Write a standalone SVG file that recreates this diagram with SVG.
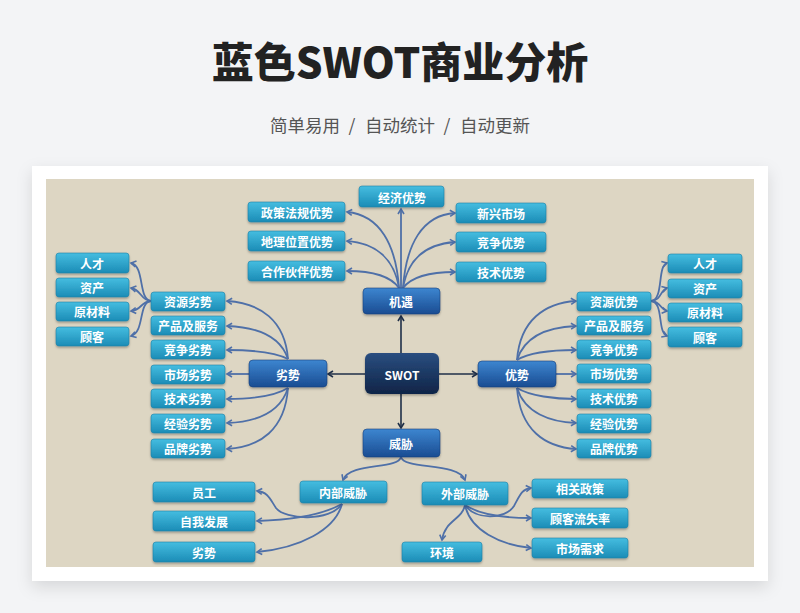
<svg xmlns="http://www.w3.org/2000/svg" width="800" height="613" viewBox="0 0 800 613">
<style>
.t{fill:#fff;font-family:"Noto Sans CJK SC","Noto Sans",sans-serif;font-weight:700;font-size:12px;text-anchor:middle;dominant-baseline:central}
.st{font-family:"Noto Sans CJK SC","Noto Sans",sans-serif;font-size:17.5px;fill:#555;text-anchor:middle;dominant-baseline:central}
.b{fill:url(#gl);stroke:#1c7fa6;stroke-width:0.6}
.d{fill:url(#gd);stroke:#163f7c;stroke-width:0.6}
.c{fill:none;stroke:#4f70a8;stroke-width:1.8;marker-end:url(#ah)}
.k{fill:none;stroke:#1f2f48;stroke-width:1.6;marker-end:url(#ak)}
</style>
<defs>
<linearGradient id="gl" x1="0" y1="0" x2="0" y2="1"><stop offset="0" stop-color="#45bde0"/><stop offset="1" stop-color="#1b8cb6"/></linearGradient>
<linearGradient id="gd" x1="0" y1="0" x2="0" y2="1"><stop offset="0" stop-color="#3d86d0"/><stop offset="1" stop-color="#1a4c92"/></linearGradient>
<linearGradient id="gs" x1="0" y1="0" x2="0" y2="1"><stop offset="0" stop-color="#2a4e80"/><stop offset="1" stop-color="#0f2447"/></linearGradient>
<filter id="sh" x="-10%" y="-10%" width="120%" height="125%"><feDropShadow dx="0" dy="6" stdDeviation="8" flood-color="#000" flood-opacity="0.12"/></filter>
<filter id="bs" x="-10%" y="-20%" width="120%" height="160%"><feDropShadow dx="0" dy="1.5" stdDeviation="1" flood-color="#000" flood-opacity="0.3"/></filter>
<marker id="ah" markerWidth="8" markerHeight="8" refX="6" refY="4" orient="auto" markerUnits="userSpaceOnUse"><path d="M1,1 L6,4 L1,7" fill="none" stroke="#4f70a8" stroke-width="1.6"/></marker>
<marker id="ak" markerWidth="8" markerHeight="8" refX="6" refY="4" orient="auto" markerUnits="userSpaceOnUse"><path d="M1,1 L6,4 L1,7" fill="none" stroke="#1f2f48" stroke-width="1.6"/></marker>
</defs>
<rect width="800" height="613" fill="#f3f4f6"/>
<text x="400" y="59" font-family="'Noto Sans CJK SC','Noto Sans',sans-serif" font-weight="900" font-size="42" fill="#222" text-anchor="middle" dominant-baseline="central">蓝色SWOT商业分析</text>
<g id="subtitle">
<text class="st" x="305" y="124">简单易用</text>
<text class="st" x="352" y="124">/</text>
<text class="st" x="400" y="124">自动统计</text>
<text class="st" x="447" y="124">/</text>
<text class="st" x="495" y="124">自动更新</text>
</g>
<rect x="32" y="166" width="736" height="415" fill="#fff" filter="url(#sh)"/>
<rect x="46" y="179" width="708" height="388" fill="#ddd6c3"/>

<g id="connectors">
<path class="k" d="M401,353 L401,316"/>
<path class="k" d="M439,374 L477,374"/>
<path class="k" d="M365,374 L328,374"/>
<path class="k" d="M401,394 L401,428"/>
<path class="c" d="M401,288 L401,209"/>
<path class="c" d="M399,288 C396,245 380,215 347,212"/>
<path class="c" d="M399,288 C394,258 375,243 347,241"/>
<path class="c" d="M399,288 C390,275 370,271 347,271"/>
<path class="c" d="M403,288 C406,245 422,215 455,213"/>
<path class="c" d="M403,288 C408,258 427,244 455,242"/>
<path class="c" d="M403,288 C412,276 432,272 455,272"/>
<path class="c" d="M288,359 C285,320 260,303 227,301"/>
<path class="c" d="M288,359 C280,335 255,327 227,326"/>
<path class="c" d="M288,359 C275,352 250,350 227,350"/>
<path class="c" d="M249,374 L227,374"/>
<path class="c" d="M288,388 C275,396 250,399 227,399"/>
<path class="c" d="M288,388 C280,413 255,422 227,423"/>
<path class="c" d="M288,388 C285,430 260,447 227,449"/>
<path class="c" d="M151,301 C138,300 145,266 131,263"/>
<path class="c" d="M151,301 C140,300 142,290 131,288"/>
<path class="c" d="M151,301 C140,302 142,310 131,311"/>
<path class="c" d="M151,301 C138,302 145,332 131,336"/>
<path class="c" d="M517,360 C520,320 545,303 576,301"/>
<path class="c" d="M517,360 C525,335 550,327 576,326"/>
<path class="c" d="M517,360 C530,352 555,350 576,350"/>
<path class="c" d="M556,374 L576,374"/>
<path class="c" d="M517,388 C530,396 555,399 576,399"/>
<path class="c" d="M517,388 C525,413 550,422 576,423"/>
<path class="c" d="M517,388 C520,430 545,447 576,449"/>
<path class="c" d="M651,301 C664,300 657,266 667,263"/>
<path class="c" d="M651,301 C662,300 660,290 667,288"/>
<path class="c" d="M651,301 C662,302 660,310 667,311"/>
<path class="c" d="M651,301 C664,302 657,332 667,336"/>
<path class="c" d="M401,457 C398,470 350,462 343,480"/>
<path class="c" d="M401,457 C404,470 458,462 465,480"/>
<path class="c" d="M342,504 C330,522 285,520 276,508 C270,499 268,492 257,491"/>
<path class="c" d="M342,504 C320,516 290,520 257,521"/>
<path class="c" d="M342,504 C335,530 300,548 257,552"/>
<path class="c" d="M465,505 C475,520 505,520 514,506 C520,495 522,489 531,488"/>
<path class="c" d="M465,505 C480,515 505,518 531,518"/>
<path class="c" d="M465,505 C470,530 500,545 531,548"/>
<path class="c" d="M465,505 C462,520 445,520 442,540"/>
</g>

<g id="swot"><rect x="365" y="353" width="74" height="41" rx="6" fill="url(#gs)" filter="url(#bs)"/><text class="t" x="402" y="374" font-size="13" font-family="'Liberation Sans',sans-serif">SWOT</text></g>
<g id="jiyu"><rect class="d" x="363" y="288" width="77" height="26" rx="4" filter="url(#bs)"/><text class="t" x="401" y="301">机遇</text></g>
<g id="lieshi"><rect class="d" x="249" y="360" width="78" height="27" rx="4" filter="url(#bs)"/><text class="t" x="288" y="374">劣势</text></g>
<g id="youshi"><rect class="d" x="478" y="361" width="78" height="26" rx="4" filter="url(#bs)"/><text class="t" x="517" y="374">优势</text></g>
<g id="weixie"><rect class="d" x="363" y="429" width="77" height="28" rx="4" filter="url(#bs)"/><text class="t" x="401" y="443">威胁</text></g>

<g id="o1"><rect class="b" x="359" y="186" width="85" height="21" rx="3" filter="url(#bs)"/><text class="t" x="402" y="197">经济优势</text></g>
<g id="o2"><rect class="b" x="248" y="202" width="97" height="20" rx="3" filter="url(#bs)"/><text class="t" x="297" y="212">政策法规优势</text></g>
<g id="o3"><rect class="b" x="248" y="231" width="97" height="20" rx="3" filter="url(#bs)"/><text class="t" x="297" y="241">地理位置优势</text></g>
<g id="o4"><rect class="b" x="248" y="261" width="97" height="20" rx="3" filter="url(#bs)"/><text class="t" x="297" y="271">合作伙伴优势</text></g>
<g id="o5"><rect class="b" x="456" y="203" width="90" height="20" rx="3" filter="url(#bs)"/><text class="t" x="501" y="213">新兴市场</text></g>
<g id="o6"><rect class="b" x="456" y="232" width="90" height="20" rx="3" filter="url(#bs)"/><text class="t" x="501" y="242">竞争优势</text></g>
<g id="o7"><rect class="b" x="456" y="262" width="90" height="20" rx="3" filter="url(#bs)"/><text class="t" x="501" y="272">技术优势</text></g>

<g id="w1"><rect class="b" x="151" y="292" width="74" height="19" rx="3" filter="url(#bs)"/><text class="t" x="188" y="301.5">资源劣势</text></g>
<g id="w2"><rect class="b" x="151" y="316" width="74" height="19" rx="3" filter="url(#bs)"/><text class="t" x="188" y="325.5">产品及服务</text></g>
<g id="w3"><rect class="b" x="151" y="340" width="74" height="19" rx="3" filter="url(#bs)"/><text class="t" x="188" y="349.5">竞争劣势</text></g>
<g id="w4"><rect class="b" x="151" y="365" width="74" height="19" rx="3" filter="url(#bs)"/><text class="t" x="188" y="374.5">市场劣势</text></g>
<g id="w5"><rect class="b" x="151" y="389" width="74" height="19" rx="3" filter="url(#bs)"/><text class="t" x="188" y="398.5">技术劣势</text></g>
<g id="w6"><rect class="b" x="151" y="414" width="74" height="19" rx="3" filter="url(#bs)"/><text class="t" x="188" y="423.5">经验劣势</text></g>
<g id="w7"><rect class="b" x="151" y="439" width="74" height="19" rx="3" filter="url(#bs)"/><text class="t" x="188" y="448.5">品牌劣势</text></g>
<g id="wr1"><rect class="b" x="56" y="253" width="73" height="20" rx="3" filter="url(#bs)"/><text class="t" x="92" y="263">人才</text></g>
<g id="wr2"><rect class="b" x="56" y="278" width="73" height="19" rx="3" filter="url(#bs)"/><text class="t" x="92" y="287.5">资产</text></g>
<g id="wr3"><rect class="b" x="56" y="302" width="73" height="19" rx="3" filter="url(#bs)"/><text class="t" x="92" y="311.5">原材料</text></g>
<g id="wr4"><rect class="b" x="56" y="327" width="73" height="19" rx="3" filter="url(#bs)"/><text class="t" x="92" y="336.5">顾客</text></g>

<g id="s1"><rect class="b" x="577" y="292" width="74" height="19" rx="3" filter="url(#bs)"/><text class="t" x="614" y="301.5">资源优势</text></g>
<g id="s2"><rect class="b" x="577" y="316" width="74" height="19" rx="3" filter="url(#bs)"/><text class="t" x="614" y="325.5">产品及服务</text></g>
<g id="s3"><rect class="b" x="577" y="340" width="74" height="19" rx="3" filter="url(#bs)"/><text class="t" x="614" y="349.5">竞争优势</text></g>
<g id="s4"><rect class="b" x="577" y="364" width="74" height="19" rx="3" filter="url(#bs)"/><text class="t" x="614" y="373.5">市场优势</text></g>
<g id="s5"><rect class="b" x="577" y="389" width="74" height="19" rx="3" filter="url(#bs)"/><text class="t" x="614" y="398.5">技术优势</text></g>
<g id="s6"><rect class="b" x="577" y="414" width="74" height="19" rx="3" filter="url(#bs)"/><text class="t" x="614" y="423.5">经验优势</text></g>
<g id="s7"><rect class="b" x="577" y="439" width="74" height="19" rx="3" filter="url(#bs)"/><text class="t" x="614" y="448.5">品牌优势</text></g>
<g id="sr1"><rect class="b" x="668" y="254" width="74" height="19" rx="3" filter="url(#bs)"/><text class="t" x="705" y="263.5">人才</text></g>
<g id="sr2"><rect class="b" x="668" y="279" width="74" height="19" rx="3" filter="url(#bs)"/><text class="t" x="705" y="288.5">资产</text></g>
<g id="sr3"><rect class="b" x="668" y="303" width="74" height="19" rx="3" filter="url(#bs)"/><text class="t" x="705" y="312.5">原材料</text></g>
<g id="sr4"><rect class="b" x="668" y="327" width="74" height="20" rx="3" filter="url(#bs)"/><text class="t" x="705" y="337">顾客</text></g>

<g id="nb"><rect class="b" x="300" y="481" width="87" height="22" rx="3" filter="url(#bs)"/><text class="t" x="343" y="492">内部威胁</text></g>
<g id="wb"><rect class="b" x="422" y="482" width="86" height="23" rx="3" filter="url(#bs)"/><text class="t" x="465" y="493.5">外部威胁</text></g>
<g id="n1"><rect class="b" x="153" y="482" width="102" height="20" rx="3" filter="url(#bs)"/><text class="t" x="204" y="492">员工</text></g>
<g id="n2"><rect class="b" x="153" y="511" width="102" height="20" rx="3" filter="url(#bs)"/><text class="t" x="204" y="521">自我发展</text></g>
<g id="n3"><rect class="b" x="153" y="542" width="102" height="20" rx="3" filter="url(#bs)"/><text class="t" x="204" y="552">劣势</text></g>
<g id="e1"><rect class="b" x="532" y="479" width="96" height="19" rx="3" filter="url(#bs)"/><text class="t" x="580" y="488.5">相关政策</text></g>
<g id="e2"><rect class="b" x="532" y="508" width="96" height="20" rx="3" filter="url(#bs)"/><text class="t" x="580" y="518">顾客流失率</text></g>
<g id="e3"><rect class="b" x="532" y="538" width="96" height="20" rx="3" filter="url(#bs)"/><text class="t" x="580" y="548">市场需求</text></g>
<g id="e4"><rect class="b" x="402" y="542" width="80" height="20" rx="3" filter="url(#bs)"/><text class="t" x="442" y="552">环境</text></g>
</svg>
